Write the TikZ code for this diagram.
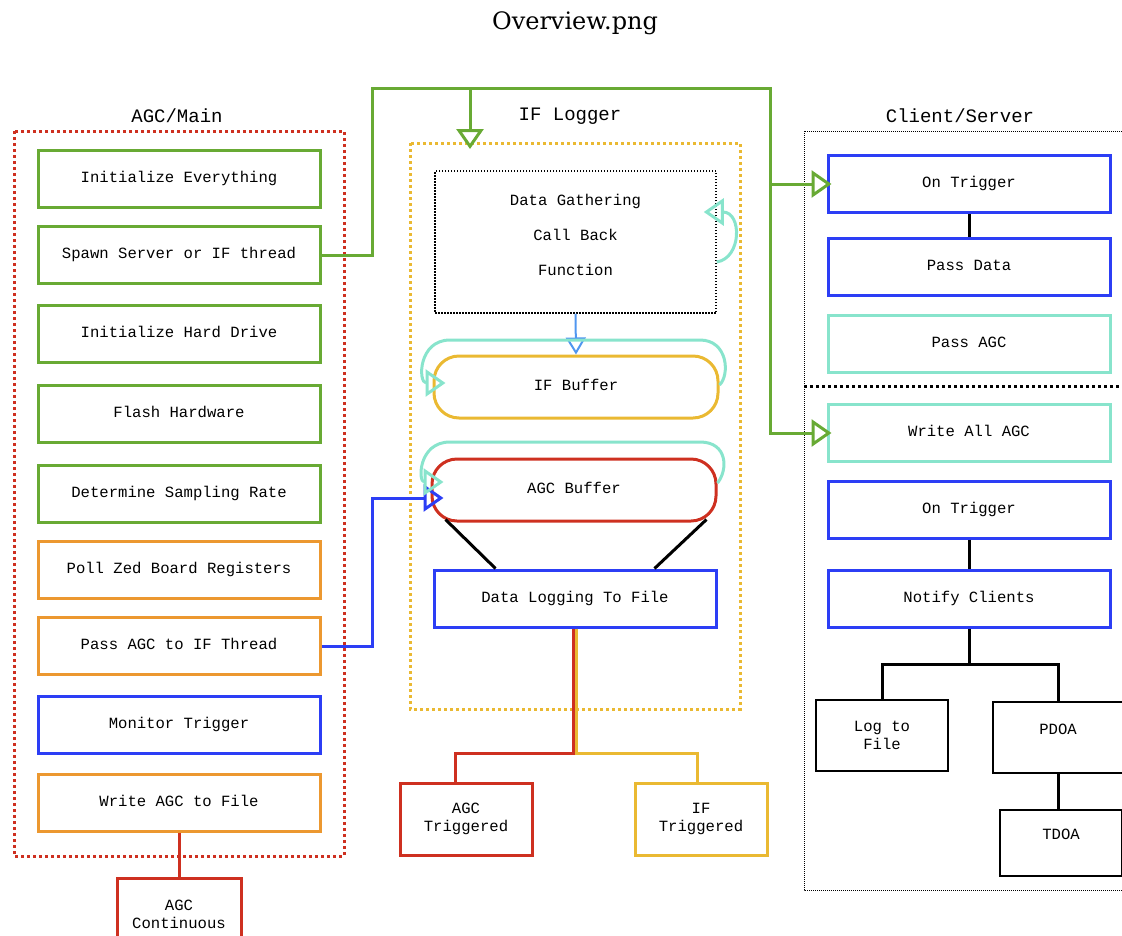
\documentclass[tikz,border=0pt]{standalone}
\usepackage{fontspec}
\setmainfont{DejaVu Serif}
\setmonofont{Liberation Mono}
\usetikzlibrary{arrows.meta}
\definecolor{grn}{RGB}{104,170,52}
\definecolor{org}{RGB}{236,152,48}
\definecolor{blu}{RGB}{44,62,245}
\definecolor{rd}{RGB}{206,48,32}
\definecolor{ylw}{RGB}{234,185,50}
\definecolor{tl}{RGB}{136,228,204}
\definecolor{lblu}{RGB}{80,150,240}
\newcommand{\boxfont}{\fontsize{15.6}{18}\selectfont\ttfamily}
\newcommand{\headfont}{\fontsize{19}{22}\selectfont\ttfamily}

\begin{document}
\begin{tikzpicture}[x=1pt,y=-1pt,
  task/.style={draw, line width=3pt, minimum width=282pt, minimum height=57pt, inner sep=0pt, text height=10pt, text depth=3pt, font=\boxfont},
  buffer/.style={task, rounded corners=25pt, minimum width=284pt, minimum height=62pt},
  result/.style={draw, line width=3pt, minimum width=132pt, minimum height=72pt, inner sep=0pt, align=center, font=\boxfont},
  leaf/.style={draw, line width=1.5pt, minimum width=132pt, minimum height=71pt, inner sep=0pt, align=center, font=\boxfont},
  zone/.style={line width=3pt, dash pattern=on 3pt off 3pt},
  head/.style={font=\headfont},
  link/.style={line width=3pt},
  hollow/.style={-{Triangle[open,length=20pt,width=27pt]}, shorten >=-5pt},
]
\path[use as bounding box] (0,0) rectangle (1122,935);
\clip (0,0) rectangle (1122,935);

\node[font=\fontsize{24}{28}\selectfont] (title) at (575,23) {Overview.png};

% AGC/Main
\node[head] (maintitle) at (177,116) {AGC/Main};
\draw[zone, rd] (14,131) rectangle (344,856);
\node[task, draw=grn] (init) at (179,179) {Initialize Everything};
\node[task, draw=grn] (spawn) at (179,255) {Spawn Server or IF thread};
\node[task, draw=grn] (hdd) at (179,334) {Initialize Hard Drive};
\node[task, draw=grn] (flash) at (179,414) {Flash Hardware};
\node[task, draw=grn] (rate) at (179,494) {Determine Sampling Rate};
\node[task, draw=org] (poll) at (179,569.5) {Poll Zed Board Registers};
\node[task, draw=org] (passagc) at (179,646) {Pass AGC to IF Thread};
\node[task, draw=blu] (monitor) at (179,725) {Monitor Trigger};
\node[task, draw=org] (writeagc) at (179,802.5) {Write AGC to File};
\node[result, draw=rd, minimum width=124pt] (agccont) at (179,914) {AGC\\Continuous};

% IF Logger
\node[head] (iftitle) at (570,116) {IF Logger};
\draw[zone, ylw] (410,143) rectangle (740,709);
\node[draw, line width=1.5pt, dash pattern=on 1.5pt off 1.5pt, minimum width=281pt, minimum height=142pt] (gather) at (575.5,242) {};
\node[align=center, font=\fontsize{15.6}{35}\selectfont\ttfamily] (gathertext) at (575.5,235) {Data Gathering\\Call Back\\Function};
\node[buffer, draw=ylw] (ifbuf) at (576,387) {IF Buffer};
\node[buffer, draw=rd] (agcbuf) at (574,490) {AGC Buffer};
\node[task, draw=blu] (dlog) at (575,598.5) {Data Logging To File};
\node[result, draw=rd] (agctrig) at (466,819) {AGC\\Triggered};
\node[result, draw=ylw] (iftrig) at (701,819) {IF\\Triggered};

% Client/Server
\node[head] (cstitle) at (960,116) {Client/Server};
\draw[line width=1pt, dash pattern=on 1pt off 1pt] (804,131) rectangle (1140,890);
\draw[zone] (804,386) -- (1122,386);
\node[task, draw=blu] (trig) at (969,184) {On Trigger};
\node[task, draw=blu] (pass) at (969,267) {Pass Data};
\node[task, draw=tl] (sendagc) at (969,344) {Pass AGC};
\node[task, draw=tl] (allagc) at (969,433) {Write All AGC};
\node[task, draw=blu] (trig2) at (969,509.5) {On Trigger};
\node[task, draw=blu] (notify) at (969,598.5) {Notify Clients};
\node[leaf] (logfile) at (882,735.5) {Log to\\File};
\node[leaf, minimum width=130pt, text height=10pt, text depth=17pt] (pdoa) at (1058,737.5) {PDOA};
\node[leaf, minimum width=122pt, minimum height=66pt, text height=10pt, text depth=17pt] (tdoa) at (1061,843) {TDOA};

% green spawn lines
\coordinate (gup) at (372,88);
\coordinate (gsplit) at (470,88);
\coordinate (gdown) at (770,88);
\coordinate (ifin) at (470,144);
\draw[link, grn, hollow] (spawn.east) -| (gup) -- (gdown) |- (allagc.west);
\draw[link, grn, hollow] (gsplit) -- (ifin);
\draw[link, grn, hollow] (gdown |- trig.west) -- (trig.west);

% AGC hand over
\coordinate (bup) at (372,498);
\draw[link, blu, hollow, shorten >=0pt] (passagc.east) -| (bup) -- ([xshift=13pt,yshift=-8pt]agcbuf.west);

\draw[line width=2pt, lblu, -{Triangle[open,length=17pt,width=20pt]}] (gather.south) -- (ifbuf.north);
\draw[link, tl, hollow, shorten >=0pt] ([yshift=-20pt]gather.east) .. controls (742,258) and (742,212) .. ([xshift=-13pt,yshift=30pt]gather.east);
\draw[link, tl, hollow, shorten >=0pt] ([yshift=2pt]ifbuf.east) .. controls (730,375) and (728,340) .. (700,340) -- (450,340) .. controls (418,340) and (418,383) .. ([xshift=13pt,yshift=4pt]ifbuf.west);
\draw[link, tl, hollow, shorten >=0pt] ([yshift=7pt]agcbuf.east) .. controls (728,470) and (728,442) .. (700,442) -- (450,442) .. controls (418,442) and (418,482) .. ([xshift=13pt,yshift=8pt]agcbuf.west);

\draw[link] ([xshift=15pt,yshift=3pt]agcbuf.south west) -- ([xshift=63pt]dlog.north west);
\draw[link] ([xshift=-11pt,yshift=3pt]agcbuf.south east) -- ([xshift=-63pt]dlog.north east);

\draw[link, ylw] ([xshift=1.5pt]dlog.south) -- ++(0,125) -| ([xshift=-4pt]iftrig.north);
\draw[link, rd] ([xshift=-1.5pt]dlog.south) -- ++(0,125) -| ([xshift=-11pt]agctrig.north);
\draw[link, rd] (writeagc.south) -- (agccont.north);

\draw[link] (trig) -- (pass);
\draw[link] (trig2) -- (notify);
\draw[link] (notify.south) -- ++(0,36) coordinate (fork) -| (logfile.north);
\draw[link] (fork) -| (pdoa.north);
\draw[link] (pdoa.south) -- (pdoa.south |- tdoa.north);
\end{tikzpicture}
\end{document}
